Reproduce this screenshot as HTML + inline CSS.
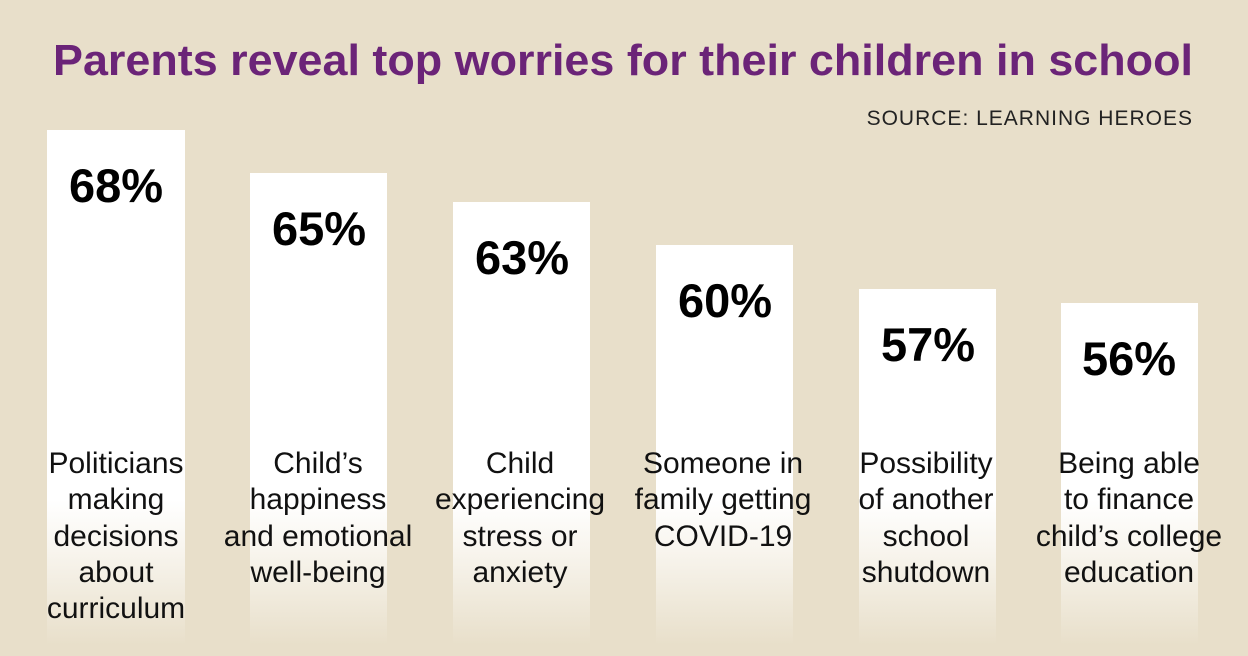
<!DOCTYPE html>
<html><head><meta charset="utf-8"><style>
html,body{margin:0;padding:0;background:#e8dfca;}
svg{display:block;}
</style></head><body>
<svg width="1248" height="656" viewBox="0 0 1248 656" xmlns="http://www.w3.org/2000/svg">
<defs>
<linearGradient id="g" gradientUnits="userSpaceOnUse" x1="0" y1="500" x2="0" y2="645">
<stop offset="0" stop-color="#ffffff"/>
<stop offset="0.35" stop-color="#f8f5ee"/>
<stop offset="1" stop-color="#e8dfca"/>
</linearGradient>
</defs>
<rect width="1248" height="656" fill="#e8dfca"/>
<text x="623" y="75" text-anchor="middle" font-family="Liberation Sans, sans-serif" font-weight="bold" font-size="44" fill="#6b2478" textLength="1140" lengthAdjust="spacingAndGlyphs">Parents reveal top worries for their children in school</text>
<text x="1193" y="125" text-anchor="end" font-family="Liberation Sans, sans-serif" font-size="21" fill="#222" letter-spacing="1">SOURCE: LEARNING HEROES</text>
<g fill="url(#g)">
<rect x="47" y="130" width="138" height="520"/>
<rect x="250" y="173" width="137" height="480"/>
<rect x="453" y="202" width="137" height="450"/>
<rect x="656" y="245" width="137" height="410"/>
<rect x="859" y="289" width="137" height="370"/>
<rect x="1061" y="303" width="137" height="350"/>
</g>
<g font-family="Liberation Sans, sans-serif" font-weight="bold" font-size="47" fill="#000" text-anchor="middle">
<text x="116" y="202">68%</text>
<text x="319" y="245">65%</text>
<text x="522" y="274">63%</text>
<text x="725" y="317">60%</text>
<text x="928" y="361">57%</text>
<text x="1129" y="375">56%</text>
</g>
<g font-family="Liberation Sans Narrow, Liberation Sans, sans-serif" font-size="30" fill="#111" text-anchor="middle">
<text x="116" y="473">Politicians</text>
<text x="116" y="509">making</text>
<text x="116" y="546">decisions</text>
<text x="116" y="582">about</text>
<text x="116" y="618">curriculum</text>
<text x="318" y="473">Child’s</text>
<text x="318" y="509">happiness</text>
<text x="318" y="546">and emotional</text>
<text x="318" y="582">well-being</text>
<text x="520" y="473">Child</text>
<text x="520" y="509">experiencing</text>
<text x="520" y="546">stress or</text>
<text x="520" y="582">anxiety</text>
<text x="723" y="473">Someone in</text>
<text x="723" y="509">family getting</text>
<text x="723" y="546">COVID-19</text>
<text x="926" y="473">Possibility</text>
<text x="926" y="509">of another</text>
<text x="926" y="546">school</text>
<text x="926" y="582">shutdown</text>
<text x="1129" y="473">Being able</text>
<text x="1129" y="509">to finance</text>
<text x="1129" y="546">child’s college</text>
<text x="1129" y="582">education</text>
</g>
</svg>
</body></html>
